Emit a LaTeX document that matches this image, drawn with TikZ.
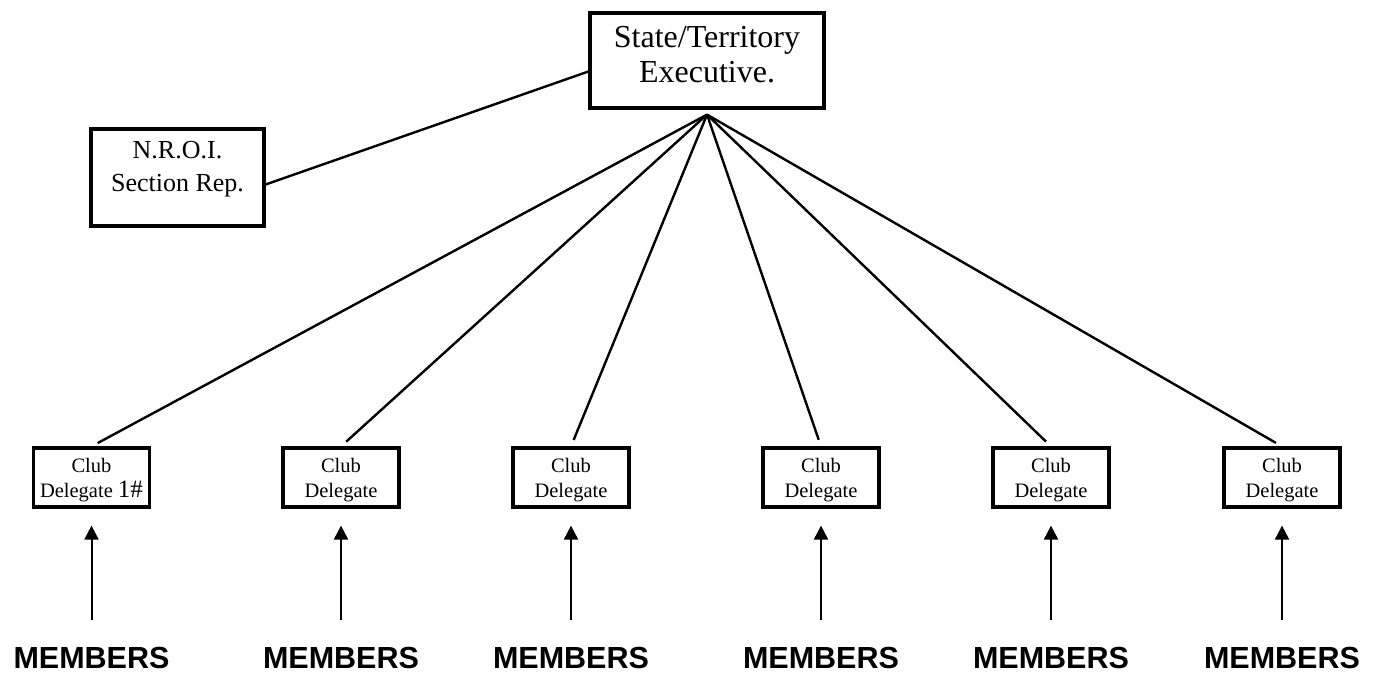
\documentclass[tikz,border=0pt]{standalone}
\usepackage{fontspec}
\setmainfont{Liberation Serif}
\setsansfont{Liberation Sans}
\usetikzlibrary{positioning,arrows.meta}

\begin{document}
\begin{tikzpicture}[%
        x=1pt, y=-1pt,
        node distance=138pt,
        auto,
        topbox/.style={rectangle, draw=black, line width=3.2pt, align=center, font=\fontsize{32}{35}\selectfont, text depth=12pt, minimum width=234pt, minimum height=95pt},
        repbox/.style={rectangle, draw=black, line width=3.2pt, align=center, font=\fontsize{26}{33}\selectfont, text depth=22pt, minimum width=173pt, minimum height=97pt},
        club/.style={rectangle, draw=black, line width=3.2pt, align=center, font=\fontsize{20.5}{25}\selectfont, text depth=0pt, inner sep=0pt, minimum width=116pt, minimum height=59pt},
        members/.style={font=\sffamily\bfseries\fontsize{30.5}{36}\selectfont, inner sep=0pt},
        link/.style={line width=2.4pt, shorten >=7pt},
        feed/.style={line width=2pt, -{Triangle[length=14pt,width=14pt]}, shorten <=27pt, shorten >=17pt}]
        \useasboundingbox (0,0) rectangle (1383,673);

        % Nodes
        \node [topbox] (exec) at (707,60.5) {State/Territory\\Executive.};
        \node [repbox] (nroi) at (177.5,177.5) {N.R.O.I.\\Section Rep.};
        \coordinate (apex) at ([yshift=-5pt]exec.south);

        \node [club] (club1) at (91.5,477.5) {Club\\Delegate {\fontsize{25}{25}\selectfont 1\#}};
        \node [club] (club2) at (341,477.5) {Club\\Delegate};
        \node [club] (club3) at (571,477.5) {Club\\Delegate};
        \node [club] (club4) at (821,477.5) {Club\\Delegate};
        \node [club] (club5) at (1051,477.5) {Club\\Delegate};
        \node [club] (club6) at (1282,477.5) {Club\\Delegate};

        \node [members, below=of club1] (mem1) {MEMBERS};
        \node [members, below=of club2] (mem2) {MEMBERS};
        \node [members, below=of club3] (mem3) {MEMBERS};
        \node [members, below=of club4] (mem4) {MEMBERS};
        \node [members, below=of club5] (mem5) {MEMBERS};
        \node [members, below=of club6] (mem6) {MEMBERS};

        % Edges
        \draw[line width=2.4pt] ([yshift=-7pt]nroi.east) -- ([yshift=-11pt]exec.west);
        \draw[link] (apex) -- (club1.north);
        \draw[link] (apex) -- (club2.north);
        \draw[link] (apex) -- (club3.north);
        \draw[link] (apex) -- (club4.north);
        \draw[link] (apex) -- (club5.north);
        \draw[link] (apex) -- (club6.north);

        \draw[feed] (mem1.north) -- (club1.south);
        \draw[feed] (mem2.north) -- (club2.south);
        \draw[feed] (mem3.north) -- (club3.south);
        \draw[feed] (mem4.north) -- (club4.south);
        \draw[feed] (mem5.north) -- (club5.south);
        \draw[feed] (mem6.north) -- (club6.south);
    \end{tikzpicture}
\end{document}
